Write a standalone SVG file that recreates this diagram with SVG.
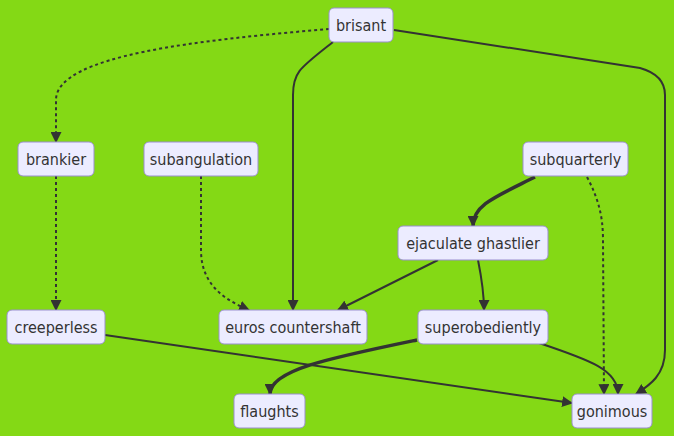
<svg xmlns="http://www.w3.org/2000/svg" width="674" height="436" viewBox="0 0 674 436">
<style>
.node rect{fill:#ECECFF;stroke:#9a8fcf;stroke-width:1px}
.node text{font-family:"DejaVu Sans Condensed","DejaVu Sans",sans-serif;font-stretch:condensed;font-size:16px;fill:#333;text-anchor:middle;dominant-baseline:central}
.e{fill:none;stroke:#333;stroke-width:2px}
.d{stroke-dasharray:3 3}
.t{stroke-width:3.5px}
</style>
<defs>
<marker id="ar" viewBox="0 0 10 10" refX="9" refY="5" markerUnits="userSpaceOnUse" markerWidth="11" markerHeight="11" orient="auto">
<path d="M0,0 L10,5 L0,10 z" fill="#333"/>
</marker>
</defs>
<rect width="674" height="436" fill="#84d915"/>
<g id="connectors">
<path class="e d" d="M329,29 C200,40 56,55 56,100 L56,142" marker-end="url(#ar)"/>
<path class="e" d="M333,42 C300,68 293,72 293,95 L293,310" marker-end="url(#ar)"/>
<path class="e" d="M394,30 L640,68 Q665,75 665,95 L665,350 C665,375 650,385 636,394" marker-end="url(#ar)"/>
<path class="e d" d="M56,176 L56,310" marker-end="url(#ar)"/>
<path class="e d" d="M201,176 L201,250 C201,285 225,300 249,310" marker-end="url(#ar)"/>
<path class="e" d="M438,260 L338,310" marker-end="url(#ar)"/>
<path class="e t" d="M535,177 C495,197 473,205 473,226" marker-end="url(#ar)"/>
<path class="e d" d="M587,177 C598,198 603,215 603,240 L604,394" marker-end="url(#ar)"/>
<path class="e" d="M478,260 C482,280 484,295 484,310" marker-end="url(#ar)"/>
<path class="e t" d="M417,340 C330,358 270,370 270,394" marker-end="url(#ar)"/>
<path class="e" d="M539,343 C590,360 618,370 618,394" marker-end="url(#ar)"/>
<path class="e" d="M105,335 L572,403" marker-end="url(#ar)"/>
</g>
<g id="brisant" class="node"><rect x="329" y="8" width="64" height="34" rx="5"/><text x="361" y="25">brisant</text></g>
<g id="brankier" class="node"><rect x="18" y="142" width="76" height="34" rx="5"/><text x="56" y="159">brankier</text></g>
<g id="subangulation" class="node"><rect x="144" y="142" width="114" height="34" rx="5"/><text x="201" y="159">subangulation</text></g>
<g id="subquarterly" class="node"><rect x="523" y="142" width="105" height="34" rx="5"/><text x="575.5" y="159">subquarterly</text></g>
<g id="ejaculate_ghastlier" class="node"><rect x="398" y="226" width="150" height="34" rx="5"/><text x="473" y="243">ejaculate ghastlier</text></g>
<g id="creeperless" class="node"><rect x="7" y="310" width="98" height="34" rx="5"/><text x="56" y="327">creeperless</text></g>
<g id="euros_countershaft" class="node"><rect x="219" y="310" width="148" height="34" rx="5"/><text x="293" y="327">euros countershaft</text></g>
<g id="superobediently" class="node"><rect x="418" y="310" width="130" height="34" rx="5"/><text x="483" y="327">superobediently</text></g>
<g id="flaughts" class="node"><rect x="234" y="394" width="71" height="34" rx="5"/><text x="269.5" y="411">flaughts</text></g>
<g id="gonimous" class="node"><rect x="572" y="394" width="80" height="34" rx="5"/><text x="612" y="411">gonimous</text></g>
</svg>
